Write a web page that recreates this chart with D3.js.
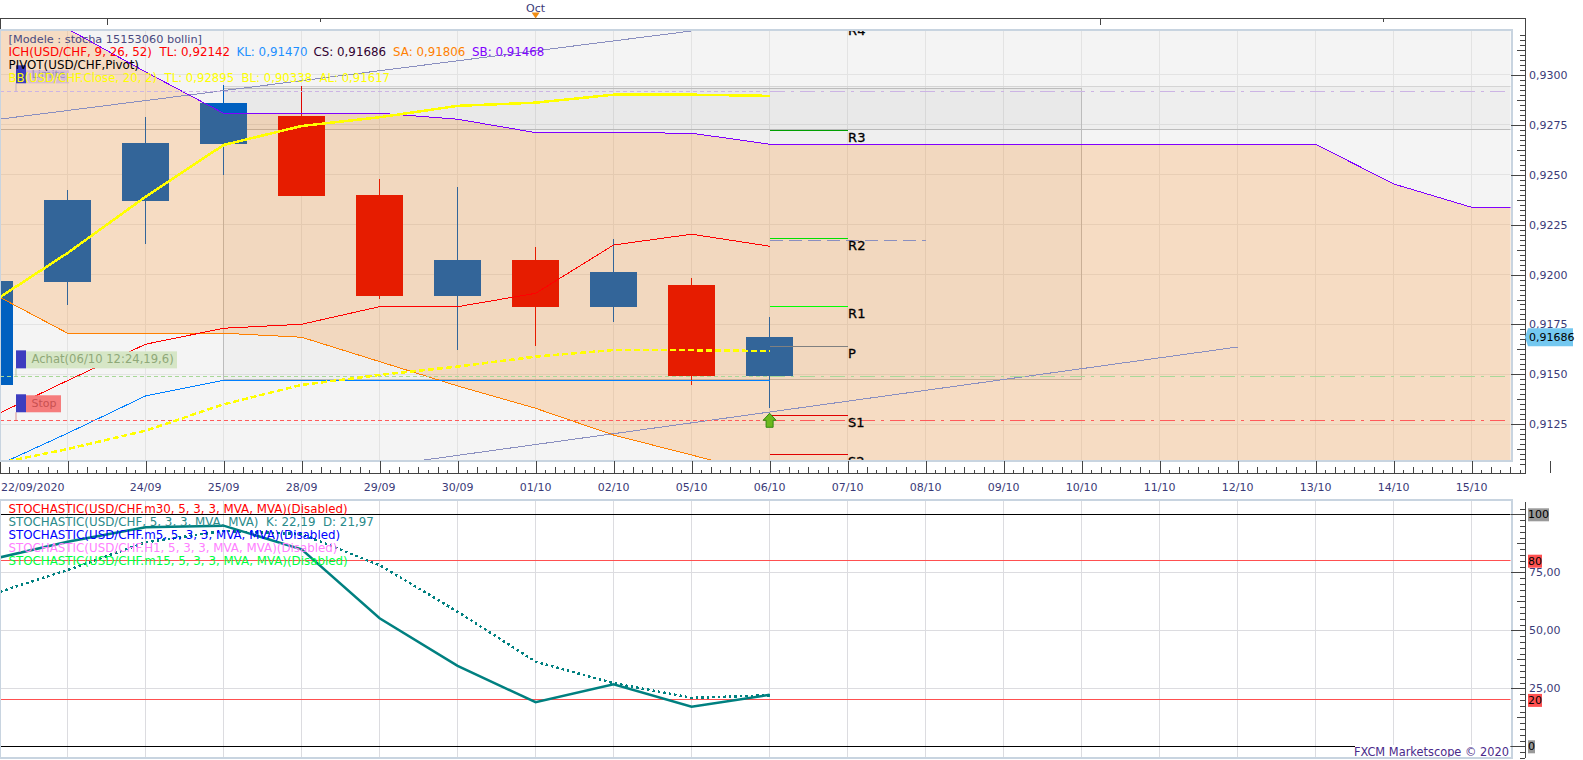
<!DOCTYPE HTML>
<html lang="fr">
<head>
<meta charset="utf-8" />
<title>USD/CHF Marketscope</title>
<style>
  html, body { margin: 0; background: #fff; overflow: hidden; }
  svg { display: block; }
  text { font-family: "DejaVu Sans", sans-serif; font-size: 11px; }
  .ax path, .ax line { stroke: #444; shape-rendering: crispEdges; }
  .ax path { display: none; }
  .ax text { fill: #3a3a78; }
  .crisp { shape-rendering: crispEdges; }
  .leg { font-size: 11.85px; }
</style>
</head>
<body>
<script src="https://d3js.org/d3.v7.min.js"></script>
<script type="text/javascript">

// data
const dates = ["22/09","23/09","24/09","25/09","28/09","29/09","30/09","01/10","02/10","05/10","06/10",
               "07/10","08/10","09/10","10/10","11/10","12/10","13/10","14/10","15/10","16/10"];
const labelDates = ["24/09","25/09","28/09","29/09","30/09","01/10","02/10","05/10","06/10",
                    "07/10","08/10","09/10","10/10","11/10","12/10","13/10","14/10","15/10"];
const opens  = [.91447,.91963,.92369,.92654,.92795,.92399,.91893,.92073,.91838,.91948,.91492];
const highs  = [.92060,.92424,.92790,.92950,.92945,.92479,.92439,.92138,.92178,.91983,.91788];
const lows   = [.91300,.91848,.92153,.92499,.92394,.91879,.91622,.91642,.91763,.91447,.91330];
const closes = [.91968,.92374,.92659,.92860,.92394,.91893,.92073,.91838,.92013,.91492,.91686];

const tenkan = [.91282,.91469,.91651,.91731,.91751,.91839,.91839,.91906,.92148,.92202,.92142];
const kijun  = [.91026,.91205,.91392,.91470,.91470,.91470,.91470,.91470,.91470,.91470,.91470];
const spanA  = [.91913,.91706,.91706,.91706,.91686,.91564,.91442,.91330,.91196,.91096,.90996,
                .90950,.90900,.90850,.90850,.90850,.90850,.90850,.90850,.90850,.90850];
const spanB  = [.93250,.93231,.93015,.92808,.92808,.92808,.92778,.92711,.92711,.92708,.92653,
                .92653,.92653,.92653,.92653,.92653,.92653,.92653,.92454,.92337,.92337];
const bbTop  = [.91853,.92108,.92390,.92649,.92744,.92788,.92845,.92861,.92901,.92901,.92895];
const bbMid  = [.91046,.91126,.91218,.91350,.91447,.91497,.91539,.91589,.91622,.91621,.91617];

const pivotNames  = ["R4","R3","R2","R1","P","S1","S2"];
const pivotValues = [.93258,.92723,.92182,.91841,.91641,.91295,.91100];
const pivotColors = ["#008000","#00a000","#00e000","#00ff00","#808080","#e00000","#e00000"];

const trendUp  = [["22/09",.92772],["06/10",.93270]];
const trendLow = [["29/09",.91040],["12/10",.91637]];
const trendFlat = [["06/10",.92170],["08/10",.92170]];

const limitLevel = .92918, entryLevel = .91490, stopLevel = .91270;
const priceTicks = [.9300,.9275,.9250,.9225,.9200,.9175,.9150,.9125];

const stochK = [80.4,88.2,94.4,95.1,84.9,55.2,34.7,19.0,26.7,17.1,22.19];
const stochD = [65.2,76.0,87.9,92.8,91.5,78.1,58.0,36.5,27.2,20.9,21.97];
const stochTicks = [100,75,50,25,0];

const stochLegend = ["STOCHASTIC(USD/CHF.m30, 5, 3, 3, MVA, MVA)(Disabled)",
                     "STOCHASTIC(USD/CHF, 5, 3, 3, MVA, MVA)  K: 22,19  D: 21,97",
                     "STOCHASTIC(USD/CHF.m5, 5, 3, 3, MVA, MVA)(Disabled)",
                     "STOCHASTIC(USD/CHF.H1, 5, 3, 3, MVA, MVA)(Disabled)",
                     "STOCHASTIC(USD/CHF.m15, 5, 3, 3, MVA, MVA)(Disabled)"];
const stochLegendColors = ["#ff0000","#2a8a8a","#0000ff","#ff80ff","#00ff40"];

const ichLegend = ["ICH(USD/CHF, 9, 26, 52)","TL: 0,92142","KL: 0,91470","CS: 0,91686","SA: 0,91806","SB: 0,91468"];
const ichLegendColors = ["#ff0000","#ff0000","#1e90ff","#300030","#ff8000","#8000ff"];
const ichLegendX = [8.5,159.5,236.5,313.5,393,472];

// layout
const plotW = 1510.5;
const axisX = 1525;
const priceTop = 31, priceBottom = 461;
const stochTop = 501, stochBottom = 758;

const svg = d3.select("body").append("svg").attr("width", 1583).attr("height", 760);

const x = d3.scalePoint().domain(dates).range([-10.4, 1549.6]);
const y = d3.scaleLinear().domain([.93220, .91066]).range([priceTop, priceBottom]);
const yS = d3.scaleLinear().domain([100, 0]).range([514.3, 746.3]);

const defs = svg.append("defs");
defs.append("clipPath").attr("id", "clipPrice").append("rect")
    .attr("x", 0).attr("y", priceTop).attr("width", plotW).attr("height", priceBottom - priceTop);
defs.append("clipPath").attr("id", "clipStoch").append("rect")
    .attr("x", 0).attr("y", stochTop).attr("width", plotW).attr("height", stochBottom - stochTop);

// top strip
svg.append("path").attr("class", "crisp").attr("fill", "none").attr("stroke", "#444")
    .attr("d", "M0.5,31V18.5H" + axisX + "V473H0.5V461");
[[107, 25], [320.5, 22], [1100, 25], [1383.5, 22]].forEach(t => {
  svg.append("line").attr("class", "crisp").attr("stroke", "#444")
      .attr("x1", t[0]).attr("x2", t[0]).attr("y1", 18).attr("y2", t[1]);
});
svg.append("text").attr("x", x("01/10")).attr("y", 12).attr("text-anchor", "middle").attr("fill", "#3a3a78").text("Oct");
svg.append("path").attr("fill", "#f08c14")
    .attr("d", d3.line()([[x("01/10") - 4, 12.5], [x("01/10") + 4, 12.5], [x("01/10"), 18.5]]));

// price panel
const price = svg.append("g");
price.append("rect").attr("x", 0).attr("y", priceTop).attr("width", plotW).attr("height", priceBottom - priceTop).attr("fill", "#f4f4f4");

const clipP = price.append("g").attr("clip-path", "url(#clipPrice)");
clipP.selectAll(".vg").data(dates).enter().append("line").attr("class", "crisp")
    .attr("x1", d => x(d)).attr("x2", d => x(d)).attr("y1", priceTop).attr("y2", priceBottom)
    .attr("stroke", "#e3e3e3");
clipP.selectAll(".hg").data(priceTicks).enter().append("line").attr("class", "crisp")
    .attr("x1", 0).attr("x2", plotW).attr("y1", d => y(d)).attr("y2", d => y(d))
    .attr("stroke", "#e3e3e3");

// channel band and zone box
clipP.append("rect").attr("x", x("25/09")).attr("width", plotW - x("25/09"))
    .attr("y", y(.92941)).attr("height", y(.92728) - y(.92941)).attr("fill", "rgba(0,0,0,.025)");
clipP.append("line").attr("class", "crisp").attr("x1", x("25/09")).attr("x2", plotW)
    .attr("y1", y(.92941)).attr("y2", y(.92941)).attr("stroke", "#d4d4d4");
clipP.append("line").attr("class", "crisp").attr("x1", 0).attr("x2", plotW)
    .attr("y1", y(.92728)).attr("y2", y(.92728)).attr("stroke", "#bcbcbc");
clipP.append("rect").attr("class", "crisp").attr("x", x("25/09")).attr("width", x("10/10") - x("25/09"))
    .attr("y", y(.92933)).attr("height", y(.91475) - y(.92933))
    .attr("fill", "rgba(0,0,0,.02)").attr("stroke", "#bcbcbc");

// candles
const candleData = opens.map((o, i) => ({ date: dates[i], o: o, h: highs[i], l: lows[i], c: closes[i] }));
const candleColor = d => d.c >= d.o ? "#0060c0" : "#e00400";
clipP.selectAll(".wick").data(candleData).enter().append("line").attr("class", "crisp")
    .attr("x1", d => x(d.date)).attr("x2", d => x(d.date))
    .attr("y1", d => y(d.h)).attr("y2", d => y(d.l))
    .attr("stroke", candleColor);
clipP.selectAll(".body").data(candleData).enter().append("rect").attr("class", "crisp")
    .attr("x", d => x(d.date) - 23.5).attr("width", 47)
    .attr("y", d => y(Math.max(d.o, d.c)))
    .attr("height", d => Math.abs(y(d.o) - y(d.c)))
    .attr("fill", candleColor);

// cloud goes over the candles
const cloud = d3.area().x((d, i) => x(dates[i])).y0((d, i) => y(spanA[i])).y1((d, i) => y(spanB[i]));
clipP.append("path").datum(spanA).attr("d", cloud).attr("fill", "rgba(255,126,0,.2)");

const lineOf = d3.line().x((d, i) => x(dates[i])).y(d => y(d));
function drawLine(values, color, width, dash) {
  clipP.append("path").datum(values).attr("d", lineOf).attr("fill", "none")
      .attr("stroke", color).attr("stroke-width", width).attr("stroke-dasharray", dash || null)
      .attr("class", "crisp");
}
drawLine(spanA, "#ff8000", 1);
drawLine(spanB, "#8000ff", 1);
drawLine(tenkan, "#ff0000", 1);
drawLine(kijun, "#0080ff", 1);

// trend lines
const pairLine = d3.line().x(d => x(d[0])).y(d => y(d[1]));
[trendUp, trendLow].forEach(t => {
  clipP.append("path").datum(t).attr("d", pairLine).attr("fill", "none").attr("stroke", "#8a8fc0").attr("stroke-width", 1).attr("class", "crisp");
});
clipP.append("path").datum(trendFlat).attr("d", pairLine).attr("fill", "none").attr("stroke", "#8a8fc0")
    .attr("stroke-dasharray", "13,6").attr("class", "crisp");

// order levels, short dashes up to the last candle then long dash dot
[[limitLevel, "#ccb4e4"], [entryLevel, "#a8d898"], [stopLevel, "#ff5a5a"]].forEach(l => {
  clipP.append("line").attr("class", "crisp").attr("x1", 0).attr("x2", x("06/10"))
      .attr("y1", y(l[0])).attr("y2", y(l[0])).attr("stroke", l[1]).attr("stroke-dasharray", "4,3");
  clipP.append("line").attr("class", "crisp").attr("x1", x("06/10")).attr("x2", plotW)
      .attr("y1", y(l[0])).attr("y2", y(l[0])).attr("stroke", l[1]).attr("stroke-dasharray", "15,6,3,6");
});

drawLine(bbTop, "#ffff00", 2.5);
drawLine(bbMid, "#ffff00", 2.5, "6,3");

// pivots
pivotNames.forEach((n, i) => {
  clipP.append("line").attr("class", "crisp").attr("x1", x("06/10")).attr("x2", x("07/10"))
      .attr("y1", y(pivotValues[i])).attr("y2", y(pivotValues[i]))
      .attr("stroke", pivotColors[i]);
  clipP.append("text").attr("x", x("07/10") + 0.5).attr("y", y(pivotValues[i]) + 12)
      .attr("fill", "#000").attr("stroke", "#000").attr("stroke-width", .3)
      .style("font-size", "13px").text(n);
});

// arrow on the last candle
clipP.append("path").attr("transform", "translate(" + x("06/10") + "," + y(stopLevel) + ")")
    .attr("d", "M0,-7L6.5,0H3.5V7H-3.5V0H-6.5Z")
    .attr("fill", "#6cb81e").attr("stroke", "#2f8a10").attr("stroke-width", 1);

// order tags
function orderTag(level, label, w, bg, fg, bgTop, size) {
  const top = y(level) - 26;
  const left = x("22/09") + 26.4;
  clipP.append("line").attr("x1", left).attr("x2", left).attr("y1", top + 18).attr("y2", y(level)).attr("stroke", fg).attr("opacity", .6);
  clipP.append("rect").attr("x", left + 10).attr("y", top + bgTop).attr("width", w).attr("height", 18 - bgTop).attr("fill", bg);
  clipP.append("rect").attr("x", left).attr("y", top).attr("width", 10).attr("height", 18).attr("fill", "#3d3dbf");
  clipP.append("text").attr("x", left + 15.5).attr("y", top + 13).attr("fill", fg).style("font-size", size).text(label);
}
orderTag(limitLevel, "Limite", 43, "rgba(190,160,230,.55)", "#9a90c0", 5, "11px");
orderTag(entryLevel, "Achat(06/10 12:24,19,6)", 151, "#d6e6c6", "#8fa878", 1, "11.6px");
orderTag(stopLevel, "Stop", 35, "#f57c7c", "#c85050", 1, "11px");

// price legend
const legendP = price.append("g");
legendP.append("text").attr("x", 8.5).attr("y", 43).attr("fill", "#4a4a80").style("font-size", "11.3px").text("[Modele : stocha 15153060 bollin]");
ichLegend.forEach((t, i) => {
  legendP.append("text").attr("class", "leg").attr("x", ichLegendX[i]).attr("y", 56).attr("fill", ichLegendColors[i]).text(t);
});
legendP.append("text").attr("class", "leg").attr("x", 8.5).attr("y", 69).attr("fill", "#000").text("PIVOT(USD/CHF,Pivot)");
legendP.append("text").attr("class", "leg").attr("x", 8.5).attr("y", 82).attr("fill", "#ffff00").attr("xml:space", "preserve")
    .style("font-size", "11.7px")
    .text("BB(USD/CHF.Close, 20, 2)  TL: 0,92895  BL: 0,90338  AL: 0,91617");

price.append("rect").attr("class", "crisp").attr("x", 0).attr("y", priceTop - 1).attr("width", plotW + 1).attr("height", priceBottom - priceTop + 1)
    .attr("fill", "none").attr("stroke", "#c8d4e0").attr("stroke-width", 2);

// price axes
const fmtPrice = d => d3.format(".4f")(d).replace(".", ",");
svg.append("g").attr("class", "ax").attr("transform", "translate(" + axisX + ",0)")
    .call(d3.axisRight(y).tickValues(priceTicks).tickSize(-14).tickPadding(4).tickFormat(fmtPrice));
const priceMinor = d3.range(.9105, .93220, .00025).filter(d => priceTicks.every(t => Math.abs(t - d) > 1e-5));
svg.append("g").attr("class", "ax").attr("transform", "translate(" + axisX + ",0)")
    .call(d3.axisLeft(y).tickValues(priceMinor.filter(d => Math.abs((d / .00125) - Math.round(d / .00125)) > .01)).tickSize(5).tickFormat(""));
svg.append("g").attr("class", "ax").attr("transform", "translate(" + axisX + ",0)")
    .call(d3.axisLeft(y).tickValues(priceMinor.filter(d => Math.abs((d / .00125) - Math.round(d / .00125)) <= .01)).tickSize(8).tickFormat(""));

const bottomAxis = d3.axisTop(x).tickValues(dates).tickSize(12).tickFormat("");
svg.append("g").attr("class", "ax").attr("transform", "translate(0,473)").call(bottomAxis);
dates.forEach(d => {
  d3.range(1, 8).forEach(k => {
    const tx = x(d) + k * 9.75;
    if (tx > 0 && tx < axisX) {
      svg.append("line").attr("class", "crisp").attr("stroke", "#444")
          .attr("x1", tx).attr("x2", tx).attr("y1", k % 2 ? 470 : 467).attr("y2", 473);
    }
  });
});
svg.selectAll(".dateLabel").data(labelDates).enter().append("text")
    .attr("x", d => x(d)).attr("y", 491).attr("text-anchor", "middle").attr("fill", "#3a3a78").text(d => d);
svg.append("text").attr("x", 1).attr("y", 491).attr("fill", "#3a3a78").text("22/09/2020");

// current price tag
const lastPrice = closes[closes.length - 1];
svg.append("path").attr("fill", "#74c8f0")
    .attr("d", d3.line()([[1525, y(lastPrice)], [1528, y(lastPrice) - 9], [1573, y(lastPrice) - 9], [1573, y(lastPrice) + 9], [1528, y(lastPrice) + 9]]));
svg.append("text").attr("x", 1529).attr("y", y(lastPrice) + 4).attr("fill", "#000").text("0,91686");

// stochastic panel
const stoch = svg.append("g");
stoch.append("rect").attr("x", 0).attr("y", stochTop).attr("width", plotW).attr("height", stochBottom - stochTop).attr("fill", "#fff");
const clipS = stoch.append("g").attr("clip-path", "url(#clipStoch)");
clipS.selectAll(".vg").data(dates).enter().append("line").attr("class", "crisp")
    .attr("x1", d => x(d)).attr("x2", d => x(d)).attr("y1", stochTop).attr("y2", stochBottom)
    .attr("stroke", "#dcdce0");
clipS.selectAll(".hg").data([75, 50, 25]).enter().append("line").attr("class", "crisp")
    .attr("x1", 0).attr("x2", plotW).attr("y1", d => yS(d)).attr("y2", d => yS(d))
    .attr("stroke", "#dcdce0");
[[100, "#000"], [80, "#ff5050"], [20, "#ff5050"], [0, "#000"]].forEach(l => {
  clipS.append("line").attr("class", "crisp").attr("x1", 0).attr("x2", plotW)
      .attr("y1", yS(l[0])).attr("y2", yS(l[0])).attr("stroke", l[1]);
});

const lineS = d3.line().x((d, i) => x(dates[i])).y(d => yS(d));
clipS.append("path").datum(stochD).attr("d", lineS).attr("fill", "none").attr("stroke", "#008080")
    .attr("stroke-width", 2.5).attr("stroke-dasharray", "2.5,3").attr("class", "crisp");
clipS.append("path").datum(stochK).attr("d", lineS).attr("fill", "none").attr("stroke", "#008080")
    .attr("stroke-width", 2.5);

stochLegend.forEach((t, i) => {
  stoch.append("text").attr("class", "leg").attr("x", 8.5).attr("y", 513 + i * 13).attr("fill", stochLegendColors[i]).attr("xml:space", "preserve").text(t);
});

// watermark sits on its own white box
stoch.append("rect").attr("x", 1355).attr("y", 745).attr("width", 155).attr("height", 13).attr("fill", "#fff");
stoch.append("text").attr("x", 1509).attr("y", 756).attr("text-anchor", "end").attr("fill", "#4a2a8a").style("font-size", "11.4px").text("FXCM Marketscope © 2020");

stoch.append("rect").attr("class", "crisp").attr("x", 0).attr("y", stochTop - 1).attr("width", plotW + 1).attr("height", stochBottom - stochTop + 1)
    .attr("fill", "none").attr("stroke", "#c8d4e0").attr("stroke-width", 2);

// stochastic axis
svg.append("line").attr("class", "crisp").attr("stroke", "#444").attr("x1", axisX).attr("x2", axisX).attr("y1", 502).attr("y2", 758);
const fmtStoch = d => (d === 100 || d === 0) ? "" : d3.format(".2f")(d).replace(".", ",");
svg.append("g").attr("class", "ax").attr("transform", "translate(" + axisX + ",0)")
    .call(d3.axisRight(yS).tickValues(stochTicks).tickSize(-14).tickPadding(4).tickFormat(fmtStoch));
const stochMinor = d3.range(-5, 105, 2.5).filter(d => d % 25 !== 0);
svg.append("g").attr("class", "ax").attr("transform", "translate(" + axisX + ",0)")
    .call(d3.axisLeft(yS).tickValues(stochMinor.filter(d => d % 12.5 !== 0)).tickSize(5).tickFormat(""));
svg.append("g").attr("class", "ax").attr("transform", "translate(" + axisX + ",0)")
    .call(d3.axisLeft(yS).tickValues(stochMinor.filter(d => d % 12.5 === 0)).tickSize(8).tickFormat(""));

// level tags
[[100, 21, "#999"], [80, 14, "#ff5050"], [20, 14, "#ff5050"], [0, 7, "#999"]].forEach(t => {
  svg.append("rect").attr("x", 1528).attr("y", yS(t[0]) - 6).attr("width", t[1]).attr("height", 13).attr("fill", t[2]);
  svg.append("text").attr("x", 1528).attr("y", yS(t[0]) + 4).attr("fill", "#000").text(t[0]);
});

</script>
</body>
</html>
